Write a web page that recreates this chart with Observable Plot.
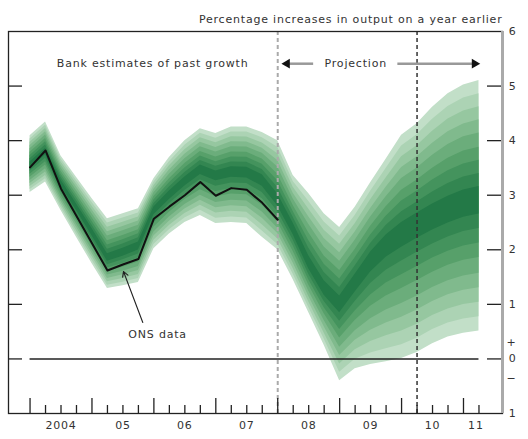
<!DOCTYPE html>
<html><head><meta charset="utf-8">
<script src="https://cdn.jsdelivr.net/npm/d3@7"></script>
<script src="https://cdn.jsdelivr.net/npm/@observablehq/plot@0.6"></script>
<style>body{margin:0;background:#fff;} svg{font-family:"DejaVu Sans", sans-serif;} svg text{letter-spacing:0.8px;}</style>
</head><body><div id="chart"></div>
<script>
// Quarters (Q1 = year.00, Q2 = .25, ...), 2004 Q1 – 2011 Q2
const quarters = [
  2004.00, 2004.25, 2004.50, 2004.75,
  2005.00, 2005.25, 2005.50, 2005.75,
  2006.00, 2006.25, 2006.50, 2006.75,
  2007.00, 2007.25, 2007.50, 2007.75,
  2008.00, 2008.25, 2008.50, 2008.75,
  2009.00, 2009.25, 2009.50, 2009.75,
  2010.00, 2010.25, 2010.50, 2010.75,
  2011.00, 2011.25
];
// ONS data (black line), 2004 Q1 – 2008 Q1
const onsData = [3.51, 3.82, 3.12, 2.62, 2.12, 1.62, 1.73, 1.83, 2.57, 2.79, 3.00, 3.24, 2.99, 3.13, 3.10, 2.86, 2.55];
// Fan: central (darkest) path, outer upper and lower edges
const fanCentre = [3.55, 3.80, 3.22, 2.78, 2.32, 1.85, 1.95, 2.07, 2.72, 3.00, 3.25, 3.47, 3.36, 3.43, 3.42, 3.28,
                   2.90, 2.38, 1.75, 1.28, 1.00, 1.40, 1.80, 2.10, 2.30, 2.47, 2.62, 2.75, 2.86, 2.92];
const fanUpper  = [4.09, 4.34, 3.72, 3.33, 2.94, 2.57, 2.66, 2.75, 3.30, 3.69, 4.00, 4.22, 4.13, 4.25, 4.25, 4.15,
                   4.00, 3.36, 3.03, 2.66, 2.41, 2.78, 3.23, 3.66, 4.10, 4.31, 4.61, 4.86, 5.02, 5.10];
const fanLower  = [3.05, 3.24, 2.72, 2.23, 1.75, 1.29, 1.34, 1.40, 2.02, 2.29, 2.50, 2.63, 2.48, 2.50, 2.48, 2.23,
                   2.00, 1.45, 0.85, 0.25, -0.40, -0.18, -0.10, -0.05, 0.01, 0.12, 0.28, 0.40, 0.47, 0.51];
// Fractions of the outer spread for each shaded band (outer to inner)
const bandFractions = [1, 0.89, 0.78, 0.67, 0.56, 0.44, 0.33, 0.22, 0.11];
const bandColours = ["#c2dfc8", "#acd3b4", "#96c7a0", "#80ba8d", "#6bad7b", "#57a06a", "#44935d", "#338651", "#237947"];

const yearLabels = ["2004", "05", "06", "07", "08", "09", "10", "11"];
const yearLabelPos = [2004.5, 2005.5, 2006.5, 2007.5, 2008.5, 2009.5, 2010.5, 2011.2];
const yTickValues = [0, 1, 2, 3, 4, 5];
const yLabelText = ["6", "5", "4", "3", "2", "1", "+", "0", "\u2212", "1"];
const yLabelPos = [6, 5, 4, 3, 2, 1, 0.3, 0, -0.35, -1];
const projectionStart = 2008.0;
const projectionHorizon = 2010.25;

const W = 528, H = 439, mL = 8, mR = 26, mT = 31, mB = 26;
const innerW = W - mL - mR, innerH = H - mT - mB;
const xDomain = [2003.652, 2011.63];
const yDomain = [-1, 6];

const bands = bandFractions.map((f, b) => ({
  colour: bandColours[b],
  rows: quarters.map((q, i) => ({
    x: q,
    y1: fanCentre[i] - f * (fanCentre[i] - fanLower[i]),
    y2: fanCentre[i] + f * (fanUpper[i] - fanCentre[i])
  }))
}));
const onsRows = onsData.map((v, i) => ({x: quarters[i], y: v}));
const yearTicks = quarters.filter(q => q % 1 === 0);
const quarterTicks = quarters.filter(q => q % 1 !== 0);

const txt = "#333";
const fs = 11;

const chart = Plot.plot({
  width: W, height: H,
  marginLeft: mL, marginRight: mR, marginTop: mT, marginBottom: mB,
  x: {domain: xDomain, axis: null},
  y: {domain: yDomain, axis: null},
  marks: [
    ...bands.map(b => Plot.areaY(b.rows, {x: "x", y1: "y1", y2: "y2", fill: b.colour, curve: "linear"})),
    Plot.ruleY([0], {x1: quarters[0], x2: quarters[quarters.length - 1], stroke: "#222", strokeWidth: 1.5}),
    Plot.ruleX([projectionStart], {stroke: "#aaa", strokeWidth: 2, strokeDasharray: "4,3"}),
    Plot.ruleX([projectionHorizon], {stroke: "#333", strokeWidth: 1.5, strokeDasharray: "4,3"}),
    Plot.line(onsRows, {x: "x", y: "y", stroke: "#111", strokeWidth: 2}),
    // ticks
    Plot.ruleY(yTickValues, {y: d => d, insetRight: innerW - 14, stroke: "#222", strokeWidth: 1.3}),
    Plot.ruleY(yTickValues, {y: d => d, insetLeft: innerW - 15, stroke: "#222", strokeWidth: 1.3}),
    Plot.ruleX(yearTicks, {x: d => d, insetTop: innerH - 15, stroke: "#222", strokeWidth: 1.3}),
    Plot.ruleX(quarterTicks, {x: d => d, insetTop: innerH - 8, stroke: "#222", strokeWidth: 1.3}),
    Plot.frame({stroke: "#222", strokeWidth: 1.3}),
    Plot.ruleX([xDomain[1]], {stroke: "#aaa", strokeWidth: 3}),
    // labels
    Plot.text(["Percentage increases in output on a year earlier"], {frameAnchor: "top-right", dy: -16, textAnchor: "end", fontSize: fs, fill: txt}),
    Plot.text(yearLabels, {x: (d, i) => yearLabelPos[i], frameAnchor: "bottom", dy: 15, fontSize: fs, fill: txt}),
    Plot.text(yLabelText, {y: (d, i) => yLabelPos[i], frameAnchor: "right", dx: 14, fontSize: fs, fill: txt}),
    Plot.text([{x: 2005.98, y: 5.41, t: "Bank estimates of past growth"}], {x: "x", y: "y", text: "t", fontSize: fs, fill: txt}),
    Plot.text([{x: 2009.26, y: 5.41, t: "Projection"}], {x: "x", y: "y", text: "t", fontSize: fs, fill: txt}),
    Plot.ruleY([{x1: 2008.12, x2: 2008.58, y: 5.41}, {x1: 2009.94, x2: 2011.15, y: 5.41}], {x1: "x1", x2: "x2", y: "y", stroke: "#999", strokeWidth: 2.5}),
    Plot.dot([{x: 2008.15, y: 5.41, r: -90}, {x: 2011.18, y: 5.41, r: 90}], {x: "x", y: "y", rotate: "r", symbol: "triangle", r: 3.6, fill: "#111", stroke: "none"}),
    Plot.arrow([{x1: 2005.82, y1: 0.67, x2: 2005.51, y2: 1.60}], {x1: "x1", y1: "y1", x2: "x2", y2: "y2", stroke: "#222", strokeWidth: 1.2, headLength: 7}),
    Plot.text([{x: 2006.06, y: 0.45, t: "ONS data"}], {x: "x", y: "y", text: "t", fontSize: fs, fill: txt})
  ]
});
document.getElementById("chart").appendChild(chart);
</script>
</body></html>
